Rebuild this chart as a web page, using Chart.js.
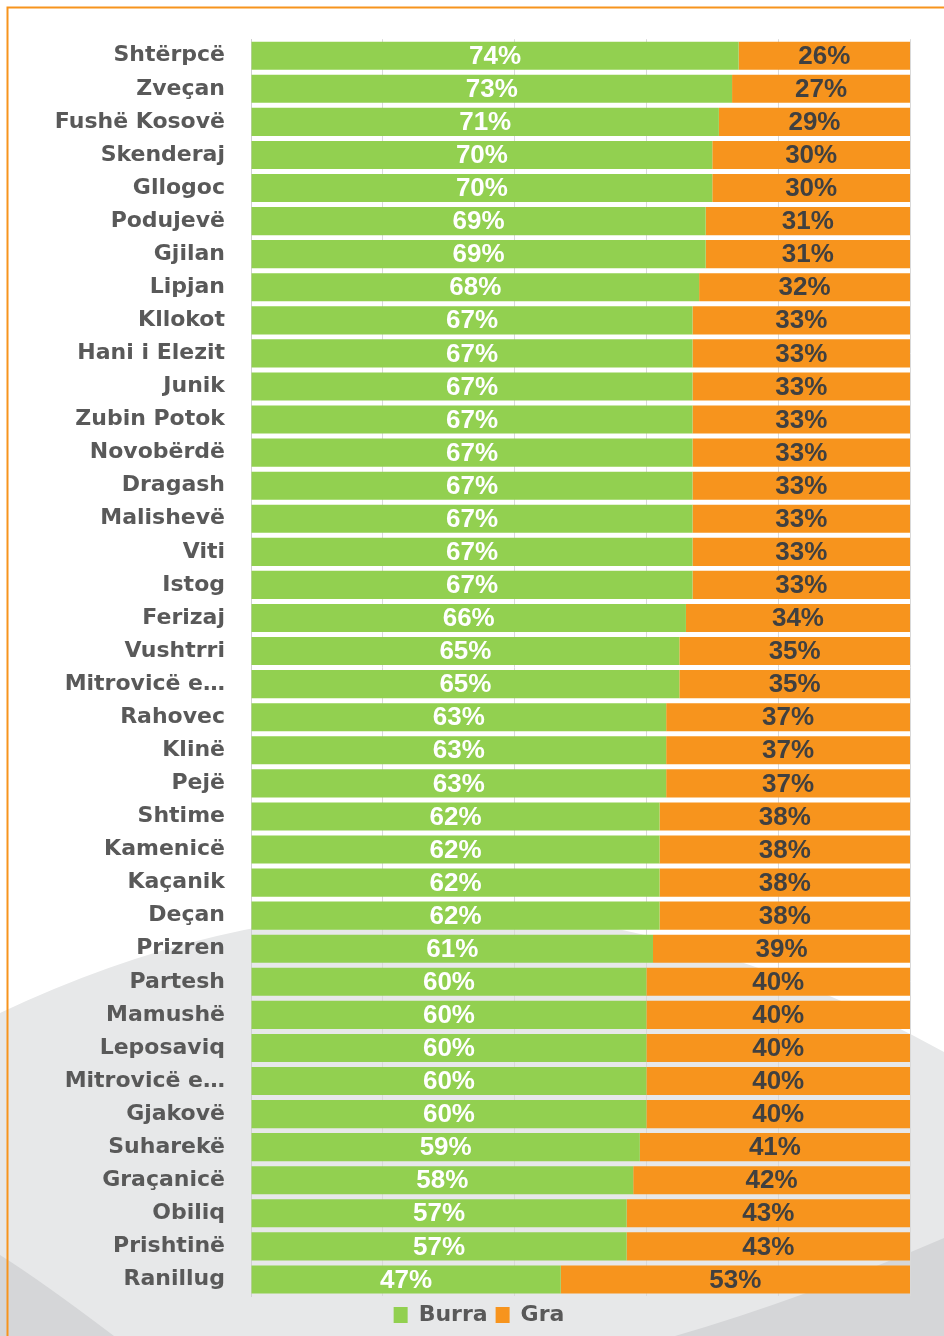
<!DOCTYPE html>
<html>
<head>
<meta charset="utf-8">
<script src="https://cdn.jsdelivr.net/npm/chart.js@4.4.0/dist/chart.umd.min.js"></script>
<style>
  html, body { margin: 0; padding: 0; background: #ffffff; }
  #wrap { position: relative; width: 944px; height: 1336px; }
</style>
</head>
<body>
<div id="wrap"><canvas id="gjinia" width="944" height="1336"></canvas></div>
<script>
// komunat
const komunat = ['Shtërpcë', 'Zveçan', 'Fushë Kosovë', 'Skenderaj', 'Gllogoc', 'Podujevë', 'Gjilan', 'Lipjan',
  'Kllokot', 'Hani i Elezit', 'Junik', 'Zubin Potok', 'Novobërdë', 'Dragash', 'Malishevë', 'Viti', 'Istog',
  'Ferizaj', 'Vushtrri', 'Mitrovicë e…', 'Rahovec', 'Klinë', 'Pejë', 'Shtime', 'Kamenicë', 'Kaçanik', 'Deçan',
  'Prizren', 'Partesh', 'Mamushë', 'Leposaviq', 'Mitrovicë e…', 'Gjakovë', 'Suharekë', 'Graçanicë', 'Obiliq',
  'Prishtinë', 'Ranillug'];

const burra = [74, 73, 71, 70, 70, 69, 69, 68, 67, 67, 67, 67, 67, 67, 67, 67, 67, 66, 65, 65,
  63, 63, 63, 62, 62, 62, 62, 61, 60, 60, 60, 60, 60, 59, 58, 57, 57, 47];
const gra = [26, 27, 29, 30, 30, 31, 31, 32, 33, 33, 33, 33, 33, 33, 33, 33, 33, 34, 35, 35,
  37, 37, 37, 38, 38, 38, 38, 39, 40, 40, 40, 40, 40, 41, 42, 43, 43, 53];

const xTicks = [0, 20, 40, 60, 80, 100];

const ngjyraBurra = '#92d050';
const ngjyraGra = '#f7941d';
const tekstGri = '#595959';

// sfondi: hiri poshte + vija portokalli
const sfondi = {
  id: 'sfondi',
  beforeDraw(chart) {
    const c = chart.ctx;
    const w = chart.width, h = chart.height;
    c.save();
    c.fillStyle = '#ffffff';
    c.fillRect(0, 0, w, h);
    c.fillStyle = '#d5d6d8';
    c.fillRect(0, 1100, w, h - 1100);
    c.fillStyle = '#e7e8e9';
    c.beginPath();
    c.moveTo(0, 1013);
    c.quadraticCurveTo(470, 790, w, 1052);
    c.lineTo(w, 1238);
    c.quadraticCurveTo(800, 1300, 675, h);
    c.lineTo(114, h);
    c.quadraticCurveTo(40, 1280, 0, 1255);
    c.closePath();
    c.fill();
    c.strokeStyle = '#f7941d';
    c.lineWidth = 2;
    c.beginPath();
    c.moveTo(7.5, h);
    c.lineTo(7.5, 7.5);
    c.lineTo(w, 7.5);
    c.stroke();
    c.restore();
  }
};

// etiketat e perqindjeve
const etiketat = {
  id: 'etiketat',
  afterDatasetsDraw(chart) {
    const c = chart.ctx;
    c.save();
    c.font = 'bold 26px "Liberation Sans", Arial, sans-serif';
    c.textAlign = 'center';
    c.textBaseline = 'middle';
    chart.data.datasets.forEach(function (ds, i) {
      const meta = chart.getDatasetMeta(i);
      meta.data.forEach(function (bar, j) {
        const mes = (bar.x + bar.base) / 2;
        c.fillStyle = i === 0 ? '#ffffff' : '#404040';
        c.fillText(ds.data[j] + '%', mes, bar.y + 1);
      });
    });
    c.restore();
  }
};

const ctx = document.getElementById('gjinia');
const grafiku = new Chart(ctx, {
  type: 'bar',
  data: {
    labels: komunat,
    datasets: [{
      label: 'Burra',
      data: burra,
      backgroundColor: ngjyraBurra,
      borderWidth: 0,
      barPercentage: 0.85,
      categoryPercentage: 1
    }, {
      label: 'Gra',
      data: gra,
      backgroundColor: ngjyraGra,
      borderWidth: 0,
      barPercentage: 0.85,
      categoryPercentage: 1
    }]
  },
  options: {
    indexAxis: 'y',
    responsive: false,
    animation: false,
    layout: {
      padding: { top: 36, right: 34, left: 48, bottom: 0 }
    },
    scales: {
      x: {
        stacked: true,
        min: 0,
        max: 100,
        afterBuildTicks: function (scale) {
          scale.ticks = xTicks.map(function (v) { return { value: v }; });
        },
        ticks: { display: false },
        grid: { color: '#d9d9d9', lineWidth: 1, drawTicks: false },
        border: { display: false }
      },
      y: {
        stacked: true,
        afterFit: function (scale) { scale.width = 203; },
        grid: { display: false, drawTicks: false },
        border: { display: true, color: '#d0d0d0', width: 1 },
        ticks: {
          padding: 26,
          autoSkip: false,
          color: tekstGri,
          font: { family: '"DejaVu Sans", sans-serif', size: 22, weight: 'bold' }
        }
      }
    },
    plugins: {
      legend: {
        position: 'bottom',
        labels: {
          color: tekstGri,
          boxWidth: 14,
          boxHeight: 16,
          padding: 8,
          font: { family: '"DejaVu Sans", sans-serif', size: 22, weight: 'bold' }
        }
      },
      tooltip: { enabled: false },
      title: { display: false }
    }
  },
  plugins: [sfondi, etiketat]
});
</script>
</body>
</html>
